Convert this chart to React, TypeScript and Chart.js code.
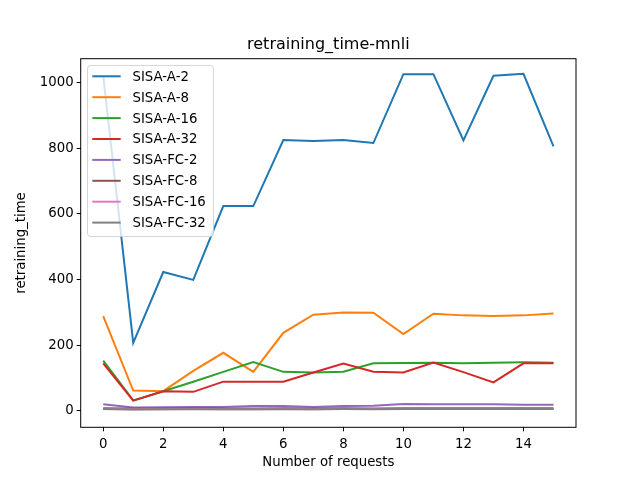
import { useEffect, useRef } from "react";
import { Chart, registerables } from "chart.js";

Chart.register(...registerables);

const requests = [0, 1, 2, 3, 4, 5, 6, 7, 8, 9, 10, 11, 12, 13, 14, 15];

const sisaA2 = [1022, 207, 423, 399, 624, 624, 825, 822, 825, 816, 1026, 1026, 824, 1021, 1027, 806];
const sisaA8 = [289, 62, 60, 122, 177, 119, 238, 293, 300, 299, 234, 296, 291, 289, 291, 297];
const sisaA16 = [153, 32, 60, 89, 119, 149, 119, 117, 119, 145, 146, 147, 145, 147, 148, 147];
const sisaA32 = [145, 31, 60, 58, 89, 89, 89, 117, 144, 119, 117, 147, 118, 87, 145, 145];
const sisaFC2 = [20, 10, 11, 12, 12, 15, 15, 12, 15, 16, 21, 20, 20, 20, 19, 19];
const sisaFC8 = [8, 7, 7, 8, 7, 7, 8, 7, 8, 7, 8, 8, 8, 8, 8, 8];
const sisaFC16 = [6, 5, 5, 6, 5, 5, 6, 5, 6, 6, 6, 6, 6, 6, 6, 6];
const sisaFC32 = [6, 4, 5, 5, 5, 5, 5, 5, 6, 5, 6, 6, 6, 6, 6, 6];

const seriesNames = ["SISA-A-2", "SISA-A-8", "SISA-A-16", "SISA-A-32", "SISA-FC-2", "SISA-FC-8", "SISA-FC-16", "SISA-FC-32"];
const seriesValues = [sisaA2, sisaA8, sisaA16, sisaA32, sisaFC2, sisaFC8, sisaFC16, sisaFC32];
const colors = ["#1f77b4", "#ff7f0e", "#2ca02c", "#d62728", "#9467bd", "#8c564b", "#e377c2", "#7f7f7f"];

const xTicks = [0, 2, 4, 6, 8, 10, 12, 14];
const yTicks = [0, 200, 400, 600, 800, 1000];

const FONT = "DejaVu Sans";

// legend box, frame, title and axis labels drawn by hand (matplotlib look)
const decorations = {
  id: "decorations",
  afterDatasetsDraw(chart: Chart) {
    const { ctx, chartArea } = chart;
    const { left, top, right, bottom } = chartArea;
    ctx.save();

    const lx = 87.5;
    const ly = 65.5;
    const lw = 126;
    const lh = 171;
    const r = 3;
    ctx.beginPath();
    ctx.moveTo(lx + r, ly);
    ctx.arcTo(lx + lw, ly, lx + lw, ly + lh, r);
    ctx.arcTo(lx + lw, ly + lh, lx, ly + lh, r);
    ctx.arcTo(lx, ly + lh, lx, ly, r);
    ctx.arcTo(lx, ly, lx + lw, ly, r);
    ctx.closePath();
    ctx.fillStyle = "rgba(255,255,255,0.8)";
    ctx.fill();
    ctx.strokeStyle = "rgba(204,204,204,0.8)";
    ctx.lineWidth = 1;
    ctx.stroke();

    ctx.font = `13.3px "${FONT}"`;
    ctx.textBaseline = "middle";
    ctx.textAlign = "left";
    seriesNames.forEach((name, i) => {
      const y = 76.3 + i * 20.9;
      ctx.strokeStyle = colors[i];
      ctx.lineWidth = 2;
      ctx.beginPath();
      ctx.moveTo(92.3, y);
      ctx.lineTo(120.7, y);
      ctx.stroke();
      ctx.fillStyle = "#000";
      ctx.fillText(name, 132.5, y + 1);
    });

    ctx.strokeStyle = "#000";
    ctx.lineWidth = 1;
    ctx.strokeRect(left, top, right - left, bottom - top);

    ctx.fillStyle = "#000";
    ctx.textAlign = "center";
    ctx.font = `16px "${FONT}"`;
    ctx.textBaseline = "bottom";
    ctx.fillText("retraining_time-mnli", (left + right) / 2, top - 6);

    ctx.font = `13.3px "${FONT}"`;
    ctx.textBaseline = "middle";
    ctx.fillText("Number of requests", (left + right) / 2, 463);

    ctx.translate(22, (top + bottom) / 2);
    ctx.rotate(-Math.PI / 2);
    ctx.fillText("retraining_time", 0, 0);
    ctx.restore();
  },
};

export default function App() {
  const canvasRef = useRef<HTMLCanvasElement | null>(null);

  useEffect(() => {
    document.body.style.margin = "0";
    if (!canvasRef.current) return;

    const chart = new Chart(canvasRef.current, {
      type: "line",
      data: {
        datasets: seriesValues.map((values, i) => ({
          label: seriesNames[i],
          data: requests.map((x, j) => ({ x, y: values[j] })),
          borderColor: colors[i],
          backgroundColor: colors[i],
          borderWidth: 2,
          pointRadius: 0,
          fill: false,
          tension: 0,
          order: seriesNames.length - i,
        })),
      },
      options: {
        responsive: false,
        animation: false,
        devicePixelRatio: 1,
        layout: { padding: { top: 58.7, right: 64, bottom: 0, left: 0 } },
        plugins: {
          legend: { display: false },
          title: { display: false },
          tooltip: { enabled: false },
        },
        scales: {
          x: {
            type: "linear",
            min: -0.75,
            max: 15.75,
            afterFit: (scale) => {
              scale.height = 52.7;
            },
            afterBuildTicks: (scale) => {
              scale.ticks = xTicks.map((value) => ({ value }));
            },
            grid: { drawOnChartArea: false, drawTicks: true, tickLength: 4, color: "#000" },
            border: { display: false },
            ticks: {
              color: "#000",
              padding: 5,
              maxRotation: 0,
              callback: (v) => String(v),
              font: { family: FONT, size: 13.3 },
            },
          },
          y: {
            type: "linear",
            min: -50,
            max: 1073,
            afterFit: (scale) => {
              scale.width = 80.7;
            },
            afterBuildTicks: (scale) => {
              scale.ticks = yTicks.map((value) => ({ value }));
            },
            grid: { drawOnChartArea: false, drawTicks: true, tickLength: 4, color: "#000" },
            border: { display: false },
            ticks: {
              color: "#000",
              padding: 3,
              callback: (v) => String(v),
              font: { family: FONT, size: 13.3 },
            },
          },
        },
      },
      plugins: [decorations],
    });

    return () => chart.destroy();
  }, []);

  return (
    <div style={{ width: 640, height: 480, background: "#fff" }}>
      <canvas ref={canvasRef} width={640} height={480} />
    </div>
  );
}
